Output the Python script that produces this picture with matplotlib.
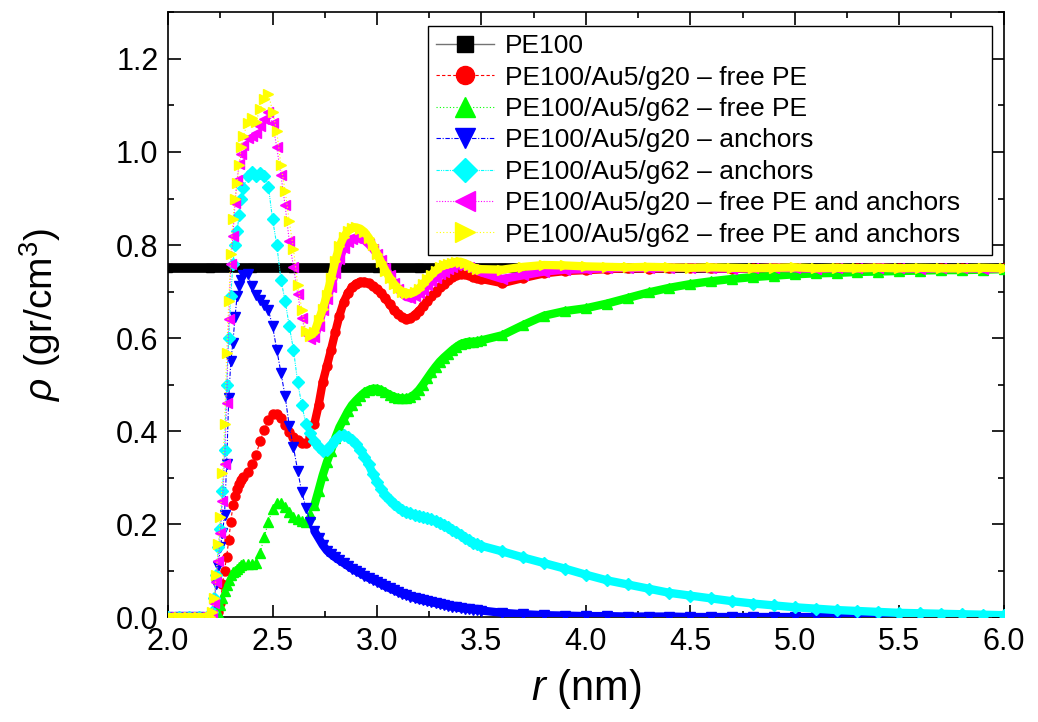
import numpy as np
import matplotlib.pyplot as plt
from matplotlib.ticker import MultipleLocator, FormatStrFormatter

plt.rcParams['font.family'] = ['Liberation Sans', 'DejaVu Sans']
plt.rcParams['mathtext.fontset'] = 'custom'
plt.rcParams['mathtext.rm'] = 'Liberation Sans'
plt.rcParams['mathtext.it'] = 'Liberation Sans:italic'

# r (nm) grid of the read-off points
r = [2.00, 2.05, 2.10, 2.15, 2.20,
     2.21, 2.22, 2.23, 2.24, 2.25, 2.26, 2.27, 2.28, 2.29, 2.30,
     2.31, 2.32, 2.33, 2.34, 2.35, 2.36,
     2.38, 2.40, 2.42, 2.44, 2.46, 2.48, 2.50, 2.52, 2.54, 2.56,
     2.58, 2.60, 2.62, 2.64, 2.66, 2.68, 2.70,
     2.72, 2.74, 2.76, 2.78, 2.80, 2.82, 2.84, 2.86, 2.88, 2.90,
     2.92, 2.94, 2.96, 2.98, 3.00,
     3.02, 3.04, 3.06, 3.08, 3.10, 3.12, 3.14, 3.16, 3.18, 3.20,
     3.22, 3.24, 3.26, 3.28, 3.30,
     3.32, 3.34, 3.36, 3.38, 3.40, 3.42, 3.44, 3.46, 3.48, 3.50,
     3.6, 3.7, 3.8, 3.9, 4.0, 4.1, 4.2, 4.3, 4.4, 4.5,
     4.6, 4.7, 4.8, 4.9, 5.0, 5.1, 5.2, 5.3, 5.4, 5.5,
     5.6, 5.7, 5.8, 5.9, 6.0]

r_pe100 = [2.0, 2.2, 2.4, 2.6, 2.8, 3.0, 3.2, 3.4, 3.6, 3.8, 4.0,
           4.2, 4.4, 4.6, 4.8, 5.0, 5.2, 5.4, 5.6, 5.8, 6.0]
pe100 = [0.75, 0.75, 0.75, 0.75, 0.75, 0.75, 0.75, 0.75, 0.75, 0.75, 0.75,
         0.75, 0.75, 0.75, 0.75, 0.75, 0.75, 0.75, 0.75, 0.75, 0.75]

g20_free = [0, 0, 0, 0, 0,
            0.0, 0.0, 0.005, 0.01, 0.03, 0.07, 0.10, 0.13, 0.165, 0.205,
            0.24, 0.26, 0.275, 0.285, 0.295, 0.302,
            0.312, 0.328, 0.348, 0.378, 0.402, 0.424, 0.436, 0.437, 0.428, 0.413,
            0.398, 0.388, 0.380, 0.375, 0.374, 0.388, 0.415,
            0.455, 0.505, 0.540, 0.575, 0.612, 0.648, 0.677, 0.696, 0.709, 0.717,
            0.721, 0.721, 0.718, 0.712, 0.705,
            0.696, 0.685, 0.673, 0.661, 0.652, 0.645, 0.641, 0.643, 0.650, 0.658,
            0.668, 0.679, 0.690, 0.700, 0.709,
            0.717, 0.724, 0.731, 0.736, 0.738, 0.737, 0.735, 0.732, 0.729, 0.727,
            0.718, 0.729, 0.739, 0.744, 0.746, 0.748, 0.750, 0.749, 0.750, 0.751,
            0.750, 0.749, 0.750, 0.751, 0.750, 0.749, 0.750, 0.750, 0.751, 0.750,
            0.749, 0.750, 0.750, 0.749, 0.750]

g62_free = [0, 0, 0, 0, 0,
            0, 0, 0, 0.008, 0.025, 0.040, 0.055, 0.068, 0.080, 0.090,
            0.096, 0.100, 0.104, 0.108, 0.111, 0.113,
            0.114, 0.115, 0.116, 0.138, 0.172, 0.205, 0.232, 0.245, 0.246, 0.237,
            0.226, 0.216, 0.210, 0.206, 0.205, 0.222, 0.240,
            0.272, 0.305, 0.333, 0.358, 0.385, 0.408, 0.425, 0.442, 0.456, 0.466,
            0.475, 0.483, 0.488, 0.491, 0.491,
            0.488, 0.483, 0.478, 0.474, 0.471, 0.470, 0.470, 0.473, 0.479, 0.488,
            0.500, 0.513, 0.526, 0.538, 0.549,
            0.558, 0.566, 0.574, 0.581, 0.587, 0.590, 0.592, 0.592, 0.593, 0.595,
            0.606, 0.628, 0.648, 0.658, 0.664, 0.674, 0.686, 0.698, 0.708, 0.716,
            0.722, 0.727, 0.731, 0.734, 0.737, 0.739, 0.740, 0.742, 0.743, 0.744,
            0.745, 0.746, 0.746, 0.747, 0.748]

g20_anch = [0, 0, 0, 0, 0,
            0.005, 0.03, 0.07, 0.11, 0.15, 0.18, 0.22, 0.33, 0.47, 0.55,
            0.59, 0.645, 0.69, 0.712, 0.725, 0.735,
            0.738, 0.712, 0.693, 0.682, 0.672, 0.660, 0.625, 0.575, 0.525, 0.475,
            0.410, 0.365, 0.315, 0.268, 0.235, 0.205, 0.185,
            0.170, 0.155, 0.143, 0.135, 0.128, 0.122, 0.116, 0.110, 0.104, 0.099,
            0.094, 0.089, 0.084, 0.080, 0.076,
            0.071, 0.066, 0.062, 0.058, 0.054, 0.050, 0.047, 0.044, 0.041, 0.038,
            0.036, 0.034, 0.032, 0.030, 0.028,
            0.026, 0.024, 0.022, 0.021, 0.019, 0.018, 0.017, 0.016, 0.015, 0.014,
            0.009, 0.006, 0.004, 0.003, 0.002, 0.002, 0.001, 0.001, 0.001, 0.0,
            0.0, 0.0, 0.0, 0.0, 0.0, 0.0, 0.0, 0.0, 0.0, 0.0,
            0.0, 0.0, 0.0, 0.0, 0.0]

g62_anch = [0, 0, 0, 0, 0,
            0.01, 0.04, 0.09, 0.15, 0.19, 0.27, 0.36, 0.50, 0.60, 0.69,
            0.76, 0.80, 0.83, 0.865, 0.90, 0.922,
            0.948, 0.958, 0.948, 0.955, 0.948, 0.925, 0.855, 0.800, 0.725, 0.680,
            0.625, 0.575, 0.505, 0.455, 0.415, 0.395, 0.378,
            0.366, 0.357, 0.360, 0.370, 0.381, 0.389, 0.392, 0.388, 0.381, 0.372,
            0.360, 0.345, 0.328, 0.308, 0.290,
            0.275, 0.262, 0.252, 0.243, 0.236, 0.230, 0.226, 0.223, 0.220, 0.218,
            0.216, 0.213, 0.210, 0.207, 0.203,
            0.198, 0.193, 0.188, 0.183, 0.177, 0.171, 0.165, 0.160, 0.156, 0.153,
            0.141, 0.128, 0.116, 0.104, 0.091, 0.079, 0.070, 0.061, 0.052, 0.046,
            0.040, 0.034, 0.029, 0.025, 0.021, 0.018, 0.015, 0.013, 0.011, 0.009,
            0.008, 0.007, 0.006, 0.005, 0.004]

g20_total = [0, 0, 0, 0, 0,
             0.005, 0.03, 0.075, 0.12, 0.18, 0.25, 0.33, 0.46, 0.64, 0.76,
             0.82, 0.89, 0.94, 0.975, 0.995, 1.015,
             1.030, 1.035, 1.040, 1.055, 1.070, 1.085, 1.062, 1.010, 0.950, 0.885,
             0.808, 0.753, 0.695, 0.643, 0.609, 0.598, 0.602,
             0.625, 0.660, 0.683, 0.710, 0.740, 0.770, 0.793, 0.806, 0.813, 0.816,
             0.815, 0.810, 0.802, 0.792, 0.781,
             0.767, 0.751, 0.735, 0.719, 0.706, 0.695, 0.688, 0.687, 0.691, 0.696,
             0.704, 0.713, 0.722, 0.730, 0.737,
             0.743, 0.748, 0.753, 0.757, 0.757, 0.755, 0.752, 0.748, 0.744, 0.741,
             0.727, 0.735, 0.743, 0.747, 0.748, 0.750, 0.751, 0.750, 0.751, 0.751,
             0.750, 0.749, 0.750, 0.751, 0.750, 0.749, 0.750, 0.750, 0.751, 0.750,
             0.749, 0.750, 0.750, 0.749, 0.750]

g62_total = [0, 0, 0, 0, 0,
             0.01, 0.04, 0.09, 0.158, 0.215, 0.31, 0.415, 0.568, 0.68, 0.78,
             0.856, 0.90, 0.934, 0.973, 1.011, 1.035,
             1.062, 1.073, 1.064, 1.093, 1.115, 1.125, 1.087, 1.045, 0.971, 0.917,
             0.851, 0.791, 0.715, 0.661, 0.615, 0.605, 0.612,
             0.638, 0.662, 0.693, 0.728, 0.766, 0.797, 0.817, 0.830, 0.837, 0.838,
             0.835, 0.828, 0.816, 0.799, 0.781,
             0.763, 0.745, 0.730, 0.717, 0.707, 0.700, 0.696, 0.696, 0.699, 0.706,
             0.716, 0.726, 0.736, 0.745, 0.752,
             0.756, 0.759, 0.762, 0.764, 0.764, 0.761, 0.757, 0.752, 0.749, 0.748,
             0.747, 0.753, 0.757, 0.756, 0.754, 0.753, 0.752, 0.753, 0.752, 0.751,
             0.752, 0.751, 0.750, 0.751, 0.752, 0.750, 0.751, 0.750, 0.751, 0.750,
             0.751, 0.750, 0.750, 0.751, 0.750]

labels = ['PE100/Au5/g20 \u2013 free PE', 'PE100/Au5/g62 \u2013 free PE',
          'PE100/Au5/g20 \u2013 anchors', 'PE100/Au5/g62 \u2013 anchors',
          'PE100/Au5/g20 \u2013 free PE and anchors',
          'PE100/Au5/g62 \u2013 free PE and anchors']
colors = ['#ff0000', '#00ff00', '#0000ff', '#00ffff', '#ff00ff', '#ffff00']
markers = ['o', '^', 'v', 'D', '<', '>']
sizes = [6.5, 7.5, 7.5, 6, 7.5, 7.5]
styles = [(0, (3, 2)), (0, (1, 2)), (0, (4, 1.5, 1, 1.5)),
          (0, (3, 1, 1, 1, 1, 1)), (0, (1, 1.5)), (0, (1, 2))]
series = [g20_free, g62_free, g20_anch, g62_anch, g20_total, g62_total]

rr = np.array(r)
dense = (rr <= 2.2) | (rr >= 2.7)

fig = plt.figure(figsize=(10.38, 7.22), dpi=100)
ax = fig.add_axes([0.162, 0.1454, 0.8049, 0.8373])

# PE100: handle line underneath, thick black band on top
ax.plot(r_pe100, pe100, color='0.45', lw=1, marker='s', ms=6,
        mfc='black', mec='black', label='PE100', zorder=0.8)
ax.plot(r_pe100, pe100, color='black', lw=7, solid_capstyle='butt', zorder=1)

for i, y in enumerate(series):
    y = np.array(y)
    band = np.where(dense, y, np.nan)
    ax.plot(rr, band, color=colors[i], lw=6, solid_capstyle='round',
            zorder=2 + 2 * i)
    ax.plot(rr, y, color=colors[i], lw=0.8, linestyle=styles[i],
            marker=markers[i], ms=sizes[i], mec=colors[i], mfc=colors[i],
            label=labels[i], zorder=3 + 2 * i)

ax.set_xlim(2.0, 6.0)
ax.set_ylim(0.0, 1.3)
ax.xaxis.set_major_locator(MultipleLocator(0.5))
ax.xaxis.set_minor_locator(MultipleLocator(0.25))
ax.yaxis.set_major_locator(MultipleLocator(0.2))
ax.yaxis.set_minor_locator(MultipleLocator(0.1))
ax.xaxis.set_major_formatter(FormatStrFormatter('%.1f'))
ax.yaxis.set_major_formatter(FormatStrFormatter('%.1f'))
ax.tick_params(which='both', direction='in', top=True, right=True,
               labelsize=22, width=1.2)
ax.tick_params(which='major', length=9, pad=7)
ax.tick_params(which='minor', length=4.5)
for s in ax.spines.values():
    s.set_linewidth(1.2)

ax.set_xlabel(r'$r$ (nm)', fontsize=30)
ax.set_ylabel(r'$\rho$ (gr/cm$^3$)', fontsize=28)
ax.xaxis.set_label_coords(0.5, -0.082)
ax.yaxis.set_label_coords(-0.126, 0.5)

leg = ax.legend(loc='upper left', bbox_to_anchor=(0.311, 0.5, 0.675, 0.478),
                mode='expand', borderaxespad=0, fontsize=19, markerscale=2,
                handlelength=2.2, handletextpad=0.4, labelspacing=0.28,
                borderpad=0.32, fancybox=False, framealpha=1,
                edgecolor='black')
leg.get_frame().set_linewidth(1.0)

plt.savefig('out.png', dpi=100)
plt.close()
